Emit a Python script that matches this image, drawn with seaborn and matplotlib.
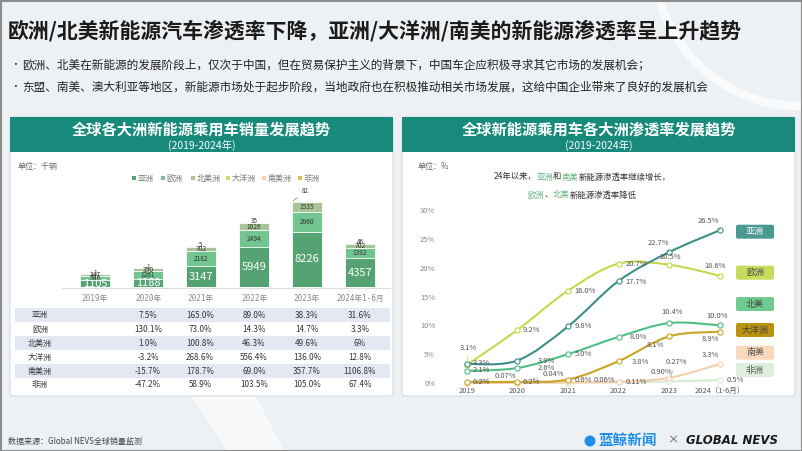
import numpy as np
import pandas as pd
import matplotlib
matplotlib.use('Agg')
import matplotlib.pyplot as plt
import seaborn as sns
from matplotlib.patches import Rectangle, FancyBboxPatch, Circle, Polygon, PathPatch
from matplotlib.path import Path
from matplotlib.offsetbox import TextArea, HPacker, AnnotationBbox

sns.set_theme(style='white')
plt.rcParams['font.family'] = ['Noto Sans CJK SC', 'DejaVu Sans']
plt.rcParams['axes.unicode_minus'] = False

# ---------------- data ----------------
title = '欧洲/北美新能源汽车渗透率下降，亚洲/大洋洲/南美的新能源渗透率呈上升趋势'
bullet_1 = '欧洲、北美在新能源的发展阶段上，仅次于中国，但在贸易保护主义的背景下，中国车企应积极寻求其它市场的发展机会；'
bullet_2 = '东盟、南美、澳大利亚等地区，新能源市场处于起步阶段，当地政府也在积极推动相关市场发展，这给中国企业带来了良好的发展机会'

years_bar = ['2019年', '2020年', '2021年', '2022年', '2023年', '2024年1-6月']
bar_series = ['亚洲', '欧洲', '北美洲', '大洋洲', '南美洲', '非洲']
sales_asia = [1105, 1188, 3147, 5949, 8226, 4357]
sales_europe = [548, 1261, 2182, 2494, 2860, 1392]
sales_north_america = [347, 350, 702, 1026, 1535, 702]
sales_oceania = [1.4, 1.4, 5, 35, 82, 46]
sales_south_america = [3.5, 3.0, 8.3, 14, 64, 60]
sales_africa = [0.5, 0.3, 0.4, 0.8, 1.7, 1.5]

growth_rows = ['亚洲', '欧洲', '北美洲', '大洋洲', '南美洲', '非洲']
growth_asia = ['', '7.5%', '165.0%', '89.0%', '38.3%', '31.6%']
growth_europe = ['', '130.1%', '73.0%', '14.3%', '14.7%', '3.3%']
growth_north_america = ['', '1.0%', '100.8%', '46.3%', '49.6%', '6%']
growth_oceania = ['', '-3.2%', '268.6%', '556.4%', '136.0%', '12.8%']
growth_south_america = ['', '-15.7%', '178.7%', '69.0%', '357.7%', '1106.8%']
growth_africa = ['', '-47.2%', '58.9%', '103.5%', '105.0%', '67.4%']

years_line = ['2019', '2020', '2021', '2022', '2023', '2024（1-6月）']
pen_series = ['亚洲', '欧洲', '北美', '大洋洲', '南美', '非洲']
pen_asia = [3.3, 3.9, 9.8, 17.7, 22.7, 26.5]
pen_europe = [3.1, 9.2, 16.0, 20.7, 20.5, 18.6]
pen_north_america = [2.1, 2.6, 5.0, 8.0, 10.4, 10.0]
pen_oceania = [0.2, 0.2, 0.6, 3.8, 8.1, 8.9]
pen_south_america = [0.05, 0.04, 0.1, 0.2, 0.90, 3.3]
pen_africa = [0.07, 0.04, 0.06, 0.11, 0.27, 0.5]
pen_asia_text = ['3.3%', '3.9%', '9.8%', '17.7%', '22.7%', '26.5%']
pen_europe_text = ['3.1%', '9.2%', '16.0%', '20.7%', '20.5%', '18.6%']
pen_north_america_text = ['2.1%', '2.6%', '5.0%', '8.0%', '10.4%', '10.0%']
pen_oceania_text = ['0.2%', '0.2%', '0.6%', '3.8%', '8.1%', '8.9%']
pen_south_america_text = ['', '', '', '', '0.90%', '3.3%']
pen_africa_text = ['0.07%', '0.04%', '0.06%', '0.11%', '0.27%', '0.5%']

# ---------------- style ----------------
W, H = 802, 451
BG = '#eef1f4'
TEAL = '#178a7c'
bar_colors = ['#55a273', '#72c590', '#a9c598', '#c9de6f', '#f5d2b8', '#e6bd4a']
line_colors = ['#3d8f87', '#c3d94b', '#4fbf86', '#c8a623', '#f5cfad', '#d6ebd3']
legend_box_colors = ['#4b9a91', '#c6dc5c', '#6ecb91', '#b99210', '#f9d8bb', '#deefdd']
legend_text_colors = ['white', '#444', '#444', '#444', '#555', '#555']


def px2fig(x0, y0, x1, y1):
    return [x0 / W, 1 - y1 / H, (x1 - x0) / W, (y1 - y0) / H]


fig = plt.figure(figsize=(W / 100, H / 100), dpi=100)
fig.patch.set_facecolor(BG)

bg = fig.add_axes([0, 0, 1, 1])
bg.set_xlim(0, W)
bg.set_ylim(H, 0)
bg.axis('off')

# decorations
bg.add_patch(Circle((800, -40), 146, fill=False, ec='white', lw=6, alpha=0.7, zorder=0))
bg.add_patch(Polygon([(191, 396), (256, 396), (284, 451), (228, 451)], closed=True,
                     fc='white', ec='none', alpha=0.55, zorder=0))
bg.add_patch(Rectangle((0.5, 0.5), W - 1, H - 1, fill=False, ec='#8c8c8c', lw=1.5, zorder=10))

# header
bg.text(8, 31, title, fontsize=15, fontweight='bold', color='#1b1b1b', ha='left', va='center')
for yy, txt in [(65, bullet_1), (87, bullet_2)]:
    bg.text(10, yy, '•', fontsize=7, color='#333', ha='left', va='center')
    bg.text(22, yy, txt, fontsize=8.4, color='#222', ha='left', va='center')

# panels
panel_titles = ['全球各大洲新能源乘用车销量发展趋势', '全球新能源乘用车各大洲渗透率发展趋势']
for (x0, x1), pt in zip([(10, 393), (402, 795)], panel_titles):
    bg.add_patch(FancyBboxPatch((x0, 117), x1 - x0, 279, boxstyle='round,pad=0,rounding_size=3',
                                fc='white', ec='#d6dce4', lw=0.8, zorder=1))
    bg.add_patch(Rectangle((x0, 117), x1 - x0, 35, fc=TEAL, ec='none', zorder=2))
    cx = (x0 + x1) / 2
    bg.text(cx, 130, pt, fontsize=11, fontweight='bold', color='white', ha='center', va='center', zorder=3)
    bg.text(cx, 145.5, '(2019-2024年)', fontsize=7.5, color='white', ha='center', va='center', zorder=3)

# left: unit & legend
bg.text(18, 166, '单位：千辆', fontsize=5.8, color='#666', ha='left', va='center', zorder=3)
leg_x = [134, 163.3, 192.7, 228.3, 264, 300]
for lx, name, c in zip(leg_x, bar_series, bar_colors):
    bg.add_patch(Rectangle((lx - 2, 176), 4, 4, fc=c, ec='none', zorder=3))
    bg.text(lx + 3.5, 178, name, fontsize=5.8, color='#777', ha='left', va='center', zorder=3)

# baseline under bars
bg.plot([62, 390], [287.6, 287.6], color='#dddddd', lw=0.8, zorder=2)

# table
table_rows = [growth_asia, growth_europe, growth_north_america, growth_oceania,
              growth_south_america, growth_africa]
row_y = [315, 329.2, 343.3, 357.3, 371.2, 384.6]
col_x = [95, 148, 200, 254, 307, 360]
for r, (name, vals) in enumerate(zip(growth_rows, table_rows)):
    yc = row_y[r]
    if r % 2 == 0:
        bg.add_patch(Rectangle((15, yc - 7), 375, 14, fc='#e4e8f3', ec='none', zorder=2))
    bg.text(40, yc, name, fontsize=5.8, color='#333', ha='center', va='center', zorder=3)
    for cx, v in zip(col_x, vals):
        if v:
            bg.text(cx, yc, v, fontsize=5.8, color='#333', ha='center', va='center', zorder=3)

# right: unit & annotation
bg.text(418, 167, '单位：%', fontsize=5.8, color='#666', ha='left', va='center', zorder=3)
GREEN_TXT = '#5fb07a'
line1 = [('24年以来，', '#333'), ('亚洲', GREEN_TXT), ('和', '#333'), ('南美', GREEN_TXT),
         ('新能源渗透率继续增长，', '#333')]
line2 = [('欧洲', GREEN_TXT), ('、', '#333'), ('北美', GREEN_TXT), ('新能源渗透率降低', '#333')]
for yy, parts in [(177, line1), (195, line2)]:
    boxes = [TextArea(t, textprops=dict(color=c, fontsize=6)) for t, c in parts]
    pack = HPacker(children=boxes, pad=0, sep=0, align='center')
    ab = AnnotationBbox(pack, (582, yy), xycoords=bg.transData, frameon=False,
                        box_alignment=(0.5, 0.5), zorder=4)
    bg.add_artist(ab)

# right legend boxes
leg_y = [231.7, 272.7, 304, 330, 352.7, 370]
for cy, name, fc, tc in zip(leg_y, pen_series, legend_box_colors, legend_text_colors):
    bg.add_patch(FancyBboxPatch((736, cy - 7), 38, 14, boxstyle='round,pad=0,rounding_size=2',
                                fc=fc, ec='none', zorder=3))
    bg.text(755, cy, name, fontsize=6.5, color=tc, ha='center', va='center', zorder=4)

# footer
bg.text(8, 441, '数据来源：Global NEVS全球销量监测', fontsize=5.8, color='#444', ha='left', va='center')
bg.add_patch(Circle((590, 441), 5.5, fc='#1e8fe8', ec='none', zorder=3))
bg.text(598, 440, '蓝鲸新闻', fontsize=10.5, fontweight='bold', color='#1e8fe8', ha='left', va='center')
bg.text(673, 440, '×', fontsize=8, color='#555', ha='center', va='center')
bg.text(686, 440, 'GLOBAL NEVS', fontsize=8.5, fontweight='bold', fontstyle='italic',
        family=['DejaVu Sans'], color='#1a1a1a', ha='left', va='center')

# ---------------- stacked bar chart ----------------
axb = fig.add_axes(px2fig(68.5, 190, 386.5, 287.3))
axb.set_facecolor('none')
stack = np.array([sales_asia, sales_europe, sales_north_america, sales_oceania,
                  sales_south_america, sales_africa], dtype=float)
cum = np.cumsum(stack, axis=0)
for k in reversed(range(len(bar_series))):
    df = pd.DataFrame({'year': years_bar, 'value': cum[k]})
    sns.barplot(data=df, x='year', y='value', order=years_bar, color=bar_colors[k],
                saturation=1, width=0.57, edgecolor='white', linewidth=0.6,
                errorbar=None, ax=axb)
axb.set_xlim(-0.5, 5.5)
axb.set_ylim(0, 14390)
axb.set_xlabel('')
axb.set_ylabel('')
axb.set_yticks([])
axb.set_xticks(range(len(years_bar)))
axb.set_xticklabels(years_bar, fontsize=5.5, color='#888',
                    family=['DejaVu Sans Mono', 'Noto Sans CJK SC'])
axb.tick_params(axis='x', length=0, pad=4.6)
for s in axb.spines.values():
    s.set_visible(False)

oce_offsets = [(0, 1), (0, 1), (0, 1), (0, 1.5), (-2, 10), (0, 1)]
oce_leader = [False, False, False, False, True, False]
for i in range(len(years_bar)):
    a, e, n = sales_asia[i], sales_europe[i], sales_north_america[i]
    axb.text(i, a / 2, f'{a:d}', color='white', fontsize=8, ha='center', va='center', zorder=5)
    axb.text(i, a + e / 2, f'{e:d}', color='#333', fontsize=4.8, ha='center', va='center', zorder=5)
    axb.text(i, a + e + n / 2, f'{n:d}', color='#333', fontsize=4.8, ha='center', va='center', zorder=5)
    dx, dy = oce_offsets[i]
    kw = {}
    if oce_leader[i]:
        kw['arrowprops'] = dict(arrowstyle='-', color='#777', lw=0.5, shrinkA=1, shrinkB=0)
        xy = (i - 0.26, cum[5][i])
    else:
        xy = (i, cum[5][i])
    axb.annotate(f'{sales_oceania[i]:.0f}', xy=xy, xytext=(dx * 0.72 + (0.26 * 53 * 0.72 if oce_leader[i] else 0), dy * 0.72),
                 textcoords='offset points', fontsize=4.5, color='#333', ha='center', va='center',
                 annotation_clip=False, zorder=6, **kw)

# ---------------- line chart ----------------
axl = fig.add_axes(px2fig(440, 210, 735, 383))
axl.set_facecolor('none')
x0px, dxpx = 466.7, 50.65
axl.set_xlim((440 - x0px) / dxpx, (735 - x0px) / dxpx)
axl.set_ylim(0, 30)
axl.axhline(0, color='#e2e2e2', lw=0.8, zorder=0)

pen_values = [pen_asia, pen_europe, pen_north_america, pen_oceania, pen_south_america, pen_africa]
pen_texts = [pen_asia_text, pen_europe_text, pen_north_america_text, pen_oceania_text,
             pen_south_america_text, pen_africa_text]
label_offsets = [
    [(15, -0.7), (29, 0), (15, 0), (17.6, 0.8), (-11, -9.4), (-11.7, -9.5)],
    [(1.8, -17.4), (14.3, 0), (17, 0), (17.3, 0.4), (0.7, -8.1), (-5, -9.7)],
    [(15, -0.9), (29.3, -0.3), (15.3, -0.2), (19.6, 0.4), (2.4, -11.3), (-3.3, -9.3)],
    [(15, 0), (14.3, 0), (15.3, 0.5), (21.3, 0.6), (-14.3, 8.7), (-10, 7.6)],
    [None, None, None, None, (-7.6, -5.5), (-10, -9)],
    [(38.3, -6.6), (35.6, -8.8), (36, -2.7), (18, -0.1), (6.7, -19.7), (15.7, 0)],
]
leaders = [
    [False, False, False, False, True, True],
    [True, False, False, False, False, True],
    [False] * 6,
    [False] * 6,
    [False] * 6,
    [True, True, False, False, True, False],
]


def smooth_path(xs, ys):
    pts = np.column_stack([xs, ys]).astype(float)
    n = len(pts)
    verts = [pts[0]]
    codes = [Path.MOVETO]
    for i in range(n - 1):
        p0 = pts[i - 1] if i > 0 else pts[i]
        p1, p2 = pts[i], pts[i + 1]
        p3 = pts[i + 2] if i + 2 < n else pts[i + 1]
        c1 = p1 + (p2 - p0) / 6.0
        c2 = p2 - (p3 - p1) / 6.0
        verts += [c1, c2, p2]
        codes += [Path.CURVE4] * 3
    return Path(verts, codes)


xs = np.arange(len(years_line))
draw_order = [5, 4, 3, 2, 1, 0]
for k in draw_order:
    vals = pen_values[k]
    c = line_colors[k]
    axl.add_patch(PathPatch(smooth_path(xs, vals), fill=False, ec=c, lw=1.5,
                            transform=axl.transData, clip_on=False, zorder=2 + (5 - k) * 0.1))
    sns.scatterplot(x=xs, y=vals, ax=axl, s=14, color='white', edgecolor=c, linewidth=0.8,
                    zorder=4, clip_on=False, legend=False)
    for i, (v, t) in enumerate(zip(vals, pen_texts[k])):
        off = label_offsets[k][i]
        if not t or off is None:
            continue
        kw = {}
        if leaders[k][i]:
            kw['arrowprops'] = dict(arrowstyle='-', color=c if k != 5 else '#bbbbbb', lw=0.5,
                                    shrinkA=1, shrinkB=2.5)
        axl.annotate(t, xy=(i, v), xytext=(off[0] * 0.72, -off[1] * 0.72), textcoords='offset points',
                     fontsize=5.4, color='#555', ha='center', va='center', annotation_clip=False,
                     zorder=6, **kw)

axl.set_xticks(xs)
axl.set_xticklabels(years_line, fontsize=5.4, color='#555')
axl.set_yticks([0, 5, 10, 15, 20, 25, 30])
axl.set_yticklabels(['0%', '5%', '10%', '15%', '20%', '25%', '30%'], fontsize=5.4, color='#888')
axl.tick_params(axis='both', length=0)
axl.tick_params(axis='x', pad=3.2)
axl.tick_params(axis='y', pad=3.5)
axl.set_xlabel('')
axl.set_ylabel('')
for s in axl.spines.values():
    s.set_visible(False)

fig.savefig('out.png', dpi=100, facecolor=fig.get_facecolor())
